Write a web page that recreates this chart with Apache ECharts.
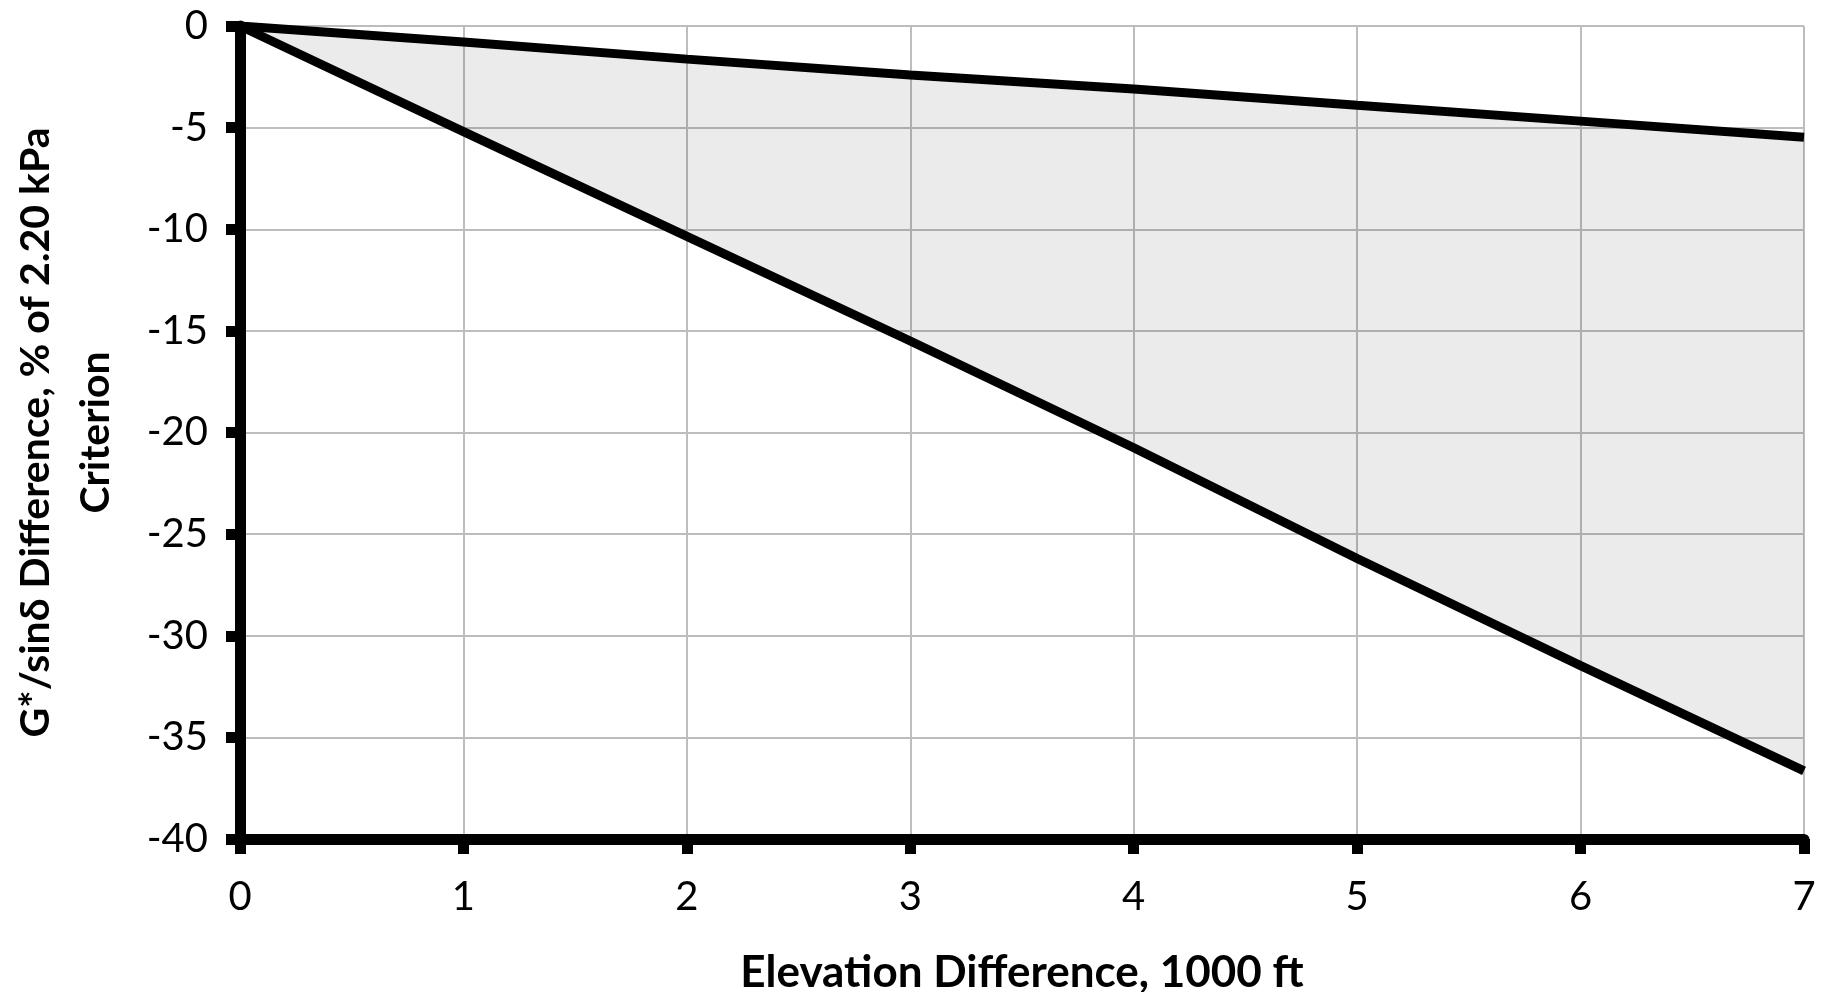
<!DOCTYPE html>
<html>
<head>
<meta charset="utf-8">
<title>G*/sinδ Difference</title>
<script src="https://cdn.jsdelivr.net/npm/echarts@6/dist/echarts.min.js"></script>
<style>
html,body{margin:0;padding:0;background:#fff;}
#main{width:1827px;height:992px;}
</style>
</head>
<body>
<div id="main"></div>
<script>
// elevation difference, 1000 ft
var elevation = [0, 1, 2, 3, 4, 5, 6, 7];
// upper and lower bound of the difference, % of 2.20 kPa criterion
var upperDiff = [0, -0.79, -1.63, -2.41, -3.10, -3.90, -4.68, -5.47];
var lowerDiff = [0, -5.20, -10.35, -15.50, -20.75, -26.20, -31.47, -36.65];
var yTicks = [0, -5, -10, -15, -20, -25, -30, -35, -40];

var fontName = 'Lato';

function pairs(xs, ys){
	var out = [];
	for (var i = 0; i < xs.length; i++) out.push([xs[i], ys[i]]);
	return out;
}
// rows for the grey band between the two lines
var bandRows = [];
for (var i = 0; i < elevation.length; i++) bandRows.push([elevation[i], upperDiff[i], lowerDiff[i]]);

var myChart = echarts.init(document.getElementById('main'));

var option = {
	animation: false,
	backgroundColor: '#fff',
	grid: {
		left: 240,
		right: 23,
		top: 26,
		bottom: 153,
		outerBoundsMode: 'none',
		containLabel: false
	},
	xAxis: {
		type: 'value',
		min: 0,
		max: 7,
		interval: 1,
		name: 'Elevation Difference, 1000 ft',
		nameLocation: 'middle',
		nameGap: 112,
		nameTextStyle: {color: '#000', fontFamily: fontName, fontWeight: 'bold', fontSize: 44},
		axisLine: {onZero: false, lineStyle: {color: '#000', width: 11}},
		axisTick: {show: true, length: 15, lineStyle: {color: '#000', width: 11}},
		axisLabel: {color: '#000', fontFamily: fontName, fontSize: 40, margin: 38},
		splitLine: {show: true, lineStyle: {color: '#bdbdbd', width: 2}}
	},
	yAxis: {
		type: 'value',
		min: yTicks[yTicks.length - 1],
		max: yTicks[0],
		interval: 5,
		name: 'G*/sinδ Difference, % of 2.20 kPa\nCriterion',
		nameLocation: 'middle',
		nameGap: 114,
		nameRotate: 90,
		nameTextStyle: {color: '#000', fontFamily: fontName, fontWeight: 'bold', fontSize: 41, lineHeight: 60},
		axisLine: {onZero: false, lineStyle: {color: '#000', width: 11}},
		axisTick: {show: true, length: 14, lineStyle: {color: '#000', width: 11}},
		axisLabel: {color: '#000', fontFamily: fontName, fontSize: 40, margin: 32},
		splitLine: {show: true, lineStyle: {color: '#bdbdbd', width: 2}}
	},
	series: [
		{
			// grey fill between upper and lower bound
			name: 'band',
			type: 'custom',
			data: bandRows,
			encode: {x: 0, y: [1, 2]},
			silent: true,
			z: 1,
			renderItem: function(params, api){
				if (params.dataIndex !== 0) return null;
				var pts = [];
				for (var i = 0; i < elevation.length; i++) pts.push(api.coord([elevation[i], upperDiff[i]]));
				for (var j = elevation.length - 1; j >= 0; j--) pts.push(api.coord([elevation[j], lowerDiff[j]]));
				return {
					type: 'polygon',
					shape: {points: pts},
					style: {fill: 'rgba(0,0,0,0.08)'}
				};
			}
		},
		{
			name: 'upper',
			type: 'line',
			data: pairs(elevation, upperDiff),
			symbol: 'none',
			lineStyle: {color: '#000', width: 9},
			z: 5
		},
		{
			name: 'lower',
			type: 'line',
			data: pairs(elevation, lowerDiff),
			symbol: 'none',
			lineStyle: {color: '#000', width: 9},
			z: 5
		}
	]
};

myChart.setOption(option);
</script>
</body>
</html>
